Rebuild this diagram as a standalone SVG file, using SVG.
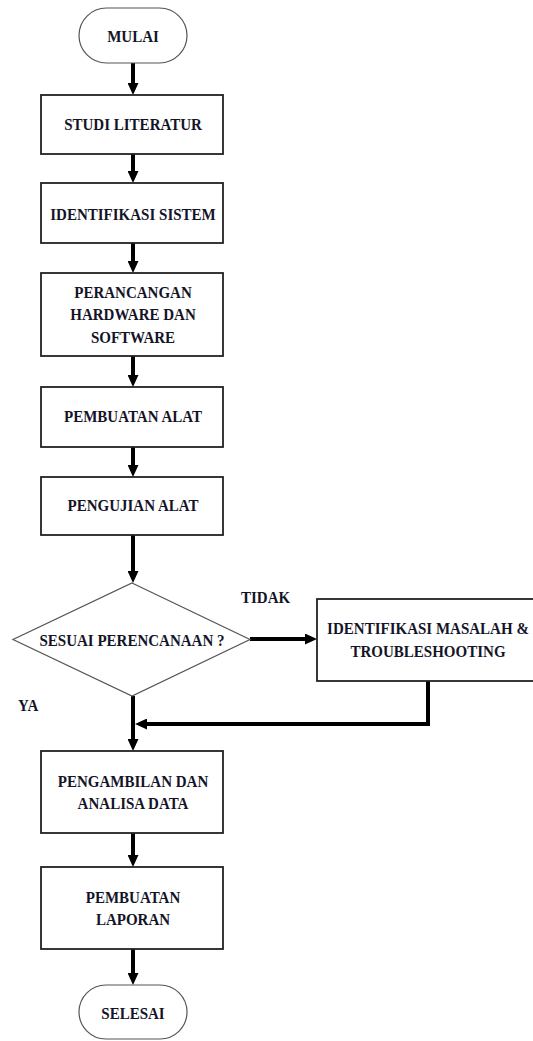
<svg xmlns="http://www.w3.org/2000/svg" width="533" height="1041" viewBox="0 0 533 1041">
<style>
  .term { fill: #fff; stroke: #555; stroke-width: 1.2; }
  .box { fill: #fff; stroke: #222; stroke-width: 1.8; }
  .dia { fill: #fff; stroke: #555; stroke-width: 1.2; }
  .t { font-family: "Liberation Serif", "Times New Roman", serif; font-weight: bold; font-size: 16.5px; fill: #141428; text-anchor: middle; }
  .lbl { font-family: "Liberation Serif", "Times New Roman", serif; font-weight: bold; font-size: 16.5px; fill: #141428; }
  .conn { fill: none; stroke: #000; stroke-width: 4; marker-end: url(#ah); }
</style>
<defs>
  <marker id="ah" markerUnits="userSpaceOnUse" markerWidth="12" markerHeight="11" refX="6" refY="5.5" orient="auto">
    <path d="M0,0 L12,5.5 L0,11 z" fill="#000"/>
  </marker>
</defs>
<rect width="533" height="1041" fill="#fff"/>

<g id="connectors">
  <path class="conn" d="M133,63 V89"/>
  <path class="conn" d="M133,154 V177"/>
  <path class="conn" d="M133,243 V267"/>
  <path class="conn" d="M133,356 V381"/>
  <path class="conn" d="M133,447 V471"/>
  <path class="conn" d="M133,535 V577"/>
  <path class="conn" d="M250,639 H311"/>
  <path class="conn" d="M133,696 V745"/>
  <path class="conn" d="M428,681 V724 H141"/>
  <path class="conn" d="M133,833 V861"/>
  <path class="conn" d="M133,949 V979"/>
</g>

<g id="mulai">
  <rect class="term" x="79" y="8" width="108" height="55" rx="27.5"/>
  <text class="t" transform="matrix(0.91 0 0 1 133 42)">MULAI</text>
</g>
<g id="studi-literatur">
  <rect class="box" x="41" y="95" width="182" height="59"/>
  <text class="t" transform="matrix(0.91 0 0 1 133 130)">STUDI LITERATUR</text>
</g>
<g id="identifikasi-sistem">
  <rect class="box" x="41" y="183" width="182" height="60"/>
  <text class="t" transform="matrix(0.91 0 0 1 133 220)">IDENTIFIKASI SISTEM</text>
</g>
<g id="perancangan">
  <rect class="box" x="41" y="273" width="182" height="83"/>
  <text class="t" transform="matrix(0.91 0 0 1 133 298)">PERANCANGAN</text>
  <text class="t" transform="matrix(0.91 0 0 1 133 320)">HARDWARE DAN</text>
  <text class="t" transform="matrix(0.91 0 0 1 133 343)">SOFTWARE</text>
</g>
<g id="pembuatan-alat">
  <rect class="box" x="41" y="387" width="182" height="60"/>
  <text class="t" transform="matrix(0.91 0 0 1 133 422)">PEMBUATAN ALAT</text>
</g>
<g id="pengujian-alat">
  <rect class="box" x="41" y="477" width="182" height="58"/>
  <text class="t" transform="matrix(0.91 0 0 1 133 511)">PENGUJIAN ALAT</text>
</g>
<g id="sesuai-perencanaan">
  <polygon class="dia" points="132,583 250,639.5 132,696 13,639.5"/>
  <text class="t" transform="matrix(0.91 0 0 1 132 646)">SESUAI PERENCANAAN ?</text>
</g>
<g id="identifikasi-masalah">
  <rect class="box" x="317" y="599" width="224" height="82"/>
  <text class="t" transform="matrix(0.91 0 0 1 428 634)">IDENTIFIKASI MASALAH &amp;</text>
  <text class="t" transform="matrix(0.91 0 0 1 428 657)">TROUBLESHOOTING</text>
</g>
<g id="labels">
  <text class="lbl" transform="matrix(0.91 0 0 1 241 603)">TIDAK</text>
  <text class="lbl" transform="matrix(0.91 0 0 1 18 711)">YA</text>
</g>
<g id="pengambilan-data">
  <rect class="box" x="41" y="751" width="182" height="82"/>
  <text class="t" transform="matrix(0.91 0 0 1 133 787)">PENGAMBILAN DAN</text>
  <text class="t" transform="matrix(0.91 0 0 1 133 809)">ANALISA DATA</text>
</g>
<g id="pembuatan-laporan">
  <rect class="box" x="41" y="867" width="182" height="82"/>
  <text class="t" transform="matrix(0.91 0 0 1 133 903)">PEMBUATAN</text>
  <text class="t" transform="matrix(0.91 0 0 1 133 925)">LAPORAN</text>
</g>
<g id="selesai">
  <rect class="term" x="79" y="985" width="108" height="54" rx="27"/>
  <text class="t" transform="matrix(0.91 0 0 1 133 1019)">SELESAI</text>
</g>
</svg>
